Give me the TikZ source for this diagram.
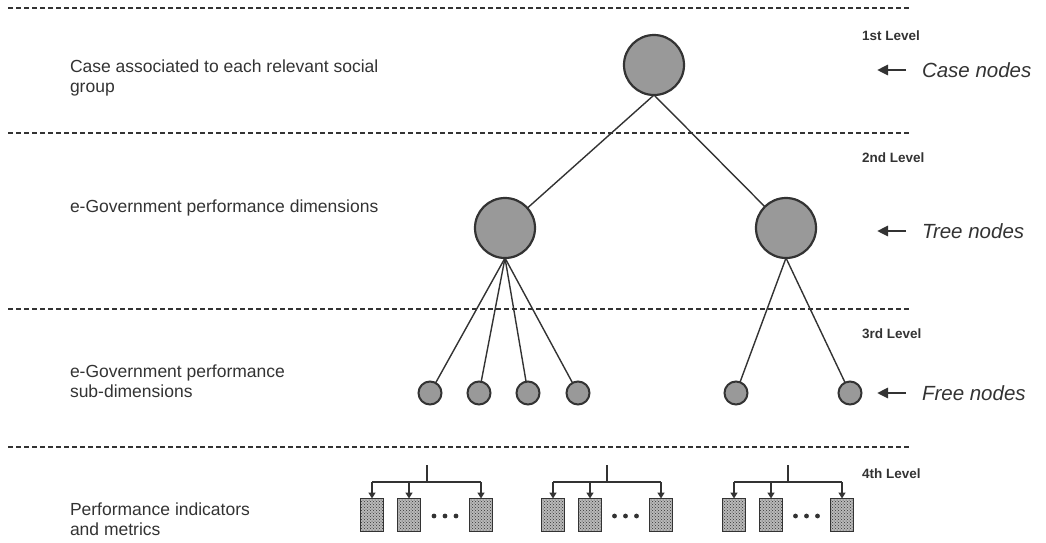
\documentclass[tikz,border=0pt]{standalone}
\usepackage{fontspec}
\setmainfont{Liberation Sans}
\usetikzlibrary{patterns,arrows.meta}
\definecolor{ink}{HTML}{333333}
\definecolor{nodefill}{HTML}{999999}
\begin{document}
\begin{tikzpicture}[x=1pt,y=-1pt,
  every node/.style={inner sep=0pt, outer sep=0pt},
  sepline/.style={draw=ink, line width=2.5pt, dash pattern=on 5pt off 3pt},
  bignode/.style={circle, draw=ink, line width=2.2pt, fill=nodefill, minimum size=60pt},
  smallnode/.style={circle, draw=ink, line width=2pt, fill=nodefill, minimum size=23pt},
  conn/.style={draw=ink, line width=1.4pt},
  metricbox/.style={rectangle, draw=ink, line width=1.8pt, minimum width=23pt, minimum height=33pt, preaction={fill=gray!55}, pattern=crosshatch dots, pattern color=ink},
  ltext/.style={anchor=west, text=ink, font=\fontsize{17.5}{20}\selectfont, align=left},
  lvl/.style={anchor=west, text=ink, font=\fontsize{13.5}{14}\selectfont\bfseries},
  rtext/.style={anchor=west, text=ink, font=\fontsize{20.5}{22}\selectfont\itshape},
  tick/.style={draw=ink, line width=1.8pt, -{Triangle[length=6pt,width=7pt]}},
  larrow/.style={draw=ink, line width=2.8pt, -{Triangle[length=11pt,width=10pt]}}
]
\useasboundingbox (0,0) rectangle (1046,542);
% separators
\foreach \y/\n in {8/a,133/b,309/c,447/d} {
  \coordinate (s\n1) at (8,\y); \coordinate (s\n2) at (910,\y);
  \draw[sepline] (s\n1) -- (s\n2);
}
% left labels
\node[ltext] (t1) at (70,78) {Case associated to each relevant social\\group};
\node[ltext] (t2) at (70,208) {e-Government performance dimensions};
\node[ltext] (t3) at (70,381) {e-Government performance\\sub-dimensions};
\node[ltext] (t4) at (70,519) {Performance indicators\\and metrics};
% level labels
\node[lvl] (l1) at (862,36) {1st Level};
\node[lvl] (l2) at (862,158) {2nd Level};
\node[lvl] (l3) at (862,334) {3rd Level};
\node[lvl] (l4) at (862,474) {4th Level};
% right labels
\node[rtext] (r1) at (922,70) {Case nodes};
\node[rtext] (r2) at (922,231) {Tree nodes};
\node[rtext] (r3) at (922,393) {Free nodes};
\foreach \i/\yy in {1/70,2/231,3/393} {
  \coordinate (ae\i) at (877,\yy);
  \coordinate (as\i) at (906,\yy);
  \draw[larrow] (as\i) -- (ae\i);
}
% tree
\node[bignode] (c) at (654,65) {};
\node[bignode] (d1) at (505,228) {};
\node[bignode] (d2) at (786,228) {};
\foreach \n/\x in {f1/430,f2/479,f3/528,f4/578,f5/736,f6/850} {
  \node[smallnode] (\n) at (\x,393) {};
}
\draw[conn] (c.south) -- (d1);
\draw[conn] (c.south) -- (d2);
\foreach \n in {f1,f2,f3,f4} { \draw[conn] (d1.south) -- (\n); }
\foreach \n in {f5,f6} { \draw[conn] (d2.south) -- (\n); }
% metric groups
\foreach \g/\s/\a/\b/\c in {1/427/372/409/481, 2/607/553/590/661, 3/788/734/771/842} {
  \node[metricbox] (m\g a) at (\a,515) {};
  \node[metricbox] (m\g b) at (\b,515) {};
  \node[metricbox] (m\g c) at (\c,515) {};
  \foreach \dx in {-11,0,11} {
    \fill[ink] ({(\b+\c)/2+\dx},516) circle (2.4pt);
  }
  \coordinate (top\g) at (\s,465);
  \coordinate (mid\g) at (\s,482);
  \draw[draw=ink, line width=1.8pt] (top\g) -- (mid\g);
  \draw[draw=ink, line width=1.8pt] (m\g a.north |- mid\g) -- (m\g c.north |- mid\g);
  \draw[tick] (m\g a.north |- mid\g) -- (m\g a.north);
  \draw[tick] (m\g b.north |- mid\g) -- (m\g b.north);
  \draw[tick] (m\g c.north |- mid\g) -- (m\g c.north);
}
\end{tikzpicture}
\end{document}
